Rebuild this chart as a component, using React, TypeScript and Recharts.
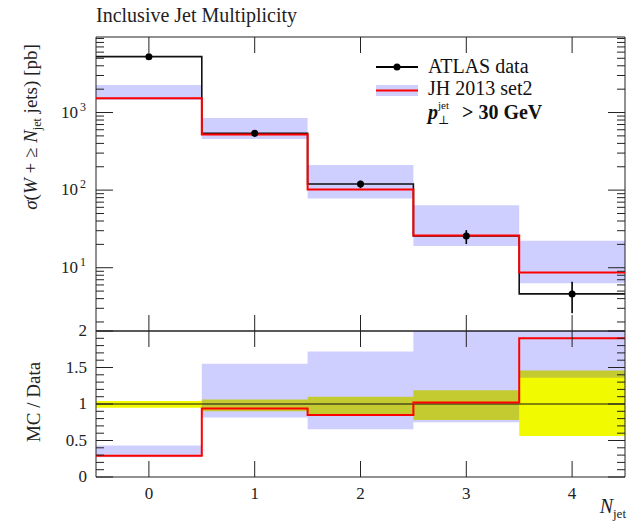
import React from "react";
import {
  ComposedChart,
  Line,
  Area,
  Scatter,
  ErrorBar,
  XAxis,
  YAxis,
  ReferenceArea,
} from "recharts";

// N_jet bins (centres) and their edges
const BIN_CENTERS = [0, 1, 2, 3, 4];
const BIN_EDGES = [-0.5, 0.5, 1.5, 2.5, 3.5, 4.5];

// top panel: sigma(W + >= N jets) [pb]
const ATLAS_XS = [5250, 540, 120, 25.7, 4.6];
const ATLAS_LO = [4990, 486, 106, 20.2, 2.6];
const ATLAS_HI = [5460, 572, 132, 30.5, 6.6];
const JH_XS = [1525, 520, 102, 26, 8.7];
const JH_LO = [1450, 455, 78, 19, 6.3];
const JH_HI = [2265, 849, 210, 64, 22.3];

// bottom panel: MC / Data
const RATIO_JH = [0.29, 0.94, 0.85, 1.02, 1.9];
const RATIO_JH_LO = [0.27, 0.815, 0.655, 0.75, 1.36];
const RATIO_JH_HI = [0.43, 1.55, 1.72, 2.5, 2.5];
const RATIO_DATA = [1, 1, 1, 1, 1];
const RATIO_DATA_LO = [0.95, 0.9, 0.86, 0.78, 0.56];
const RATIO_DATA_HI = [1.04, 1.06, 1.1, 1.19, 1.46];

// axis ticks
const LOG_MAJOR = [10, 100, 1000];
const LOG_TICKS = [
  2, 3, 4, 5, 6, 7, 8, 9, 10, 20, 30, 40, 50, 60, 70, 80, 90, 100, 200, 300,
  400, 500, 600, 700, 800, 900, 1000, 2000, 3000, 4000, 5000, 6000, 7000, 8000,
  9000,
];
const RATIO_MAJOR = [0, 0.5, 1, 1.5, 2];
const RATIO_TICKS = [
  0, 0.1, 0.2, 0.3, 0.4, 0.5, 0.6, 0.7, 0.8, 0.9, 1, 1.1, 1.2, 1.3, 1.4, 1.5,
  1.6, 1.7, 1.8, 1.9, 2,
];
const LOG_DOMAIN = [1.53, 9400];
const RATIO_DOMAIN = [0, 2];

// layout (page px)
const W = 635;
const LEFT = 96;
const RIGHT = 625;
const PW = RIGHT - LEFT;
const TOP = 37;
const SPLIT = 331;
const BOTTOM = 477;
const TOP_H = SPLIT - TOP;
const BOT_H = BOTTOM - SPLIT;

const FONT = '"Liberation Serif", "DejaVu Serif", serif';
const AXIS = "#222";
const BAND = "#0000ff";
const YELLOW = "#f2fa00";
const RED = "#ff0000";

// histogram rows: one per bin edge, last edge repeats the last bin
const stepRows = (vals: number[]) =>
  BIN_EDGES.map((x, i) => ({ x, v: vals[Math.min(i, vals.length - 1)] }));
const bandRows = (lo: number[], hi: number[]) =>
  BIN_EDGES.map((x, i) => {
    const j = Math.min(i, lo.length - 1);
    return { x, band: [lo[j], hi[j]] };
  });
const pointRows = BIN_CENTERS.map((x, i) => ({
  x,
  y: ATLAS_XS[i],
  err: [ATLAS_XS[i] - ATLAS_LO[i], ATLAS_HI[i] - ATLAS_XS[i]],
}));

const LogTick = (props: any) => {
  const { x, y, payload } = props;
  const v = payload.value as number;
  const major = LOG_MAJOR.includes(v);
  const len = major ? 17 : 8;
  return (
    <g>
      <line x1={x} x2={x + len} y1={y} y2={y} stroke={AXIS} />
      <line x1={x + PW} x2={x + PW - len} y1={y} y2={y} stroke={AXIS} />
      {major && (
        <text x={x - 10} y={y + 5} textAnchor="end" fontFamily={FONT} fontSize={17} fill="#222">
          10
          <tspan dx={2} dy={-7} fontSize={12}>
            {Math.round(Math.log10(v))}
          </tspan>
        </text>
      )}
    </g>
  );
};

const RatioTick = (props: any) => {
  const { x, y, payload } = props;
  const v = payload.value as number;
  const major = RATIO_MAJOR.includes(v);
  const len = major ? 17 : 8;
  return (
    <g>
      <line x1={x} x2={x + len} y1={y} y2={y} stroke={AXIS} />
      <line x1={x + PW} x2={x + PW - len} y1={y} y2={y} stroke={AXIS} />
      {major && (
        <text x={x - 9} y={y + 5} textAnchor="end" fontFamily={FONT} fontSize={17} fill="#222">
          {String(v)}
        </text>
      )}
    </g>
  );
};

const TopXTick = (props: any) => {
  const { x, y } = props;
  return (
    <g>
      <line x1={x} x2={x} y1={y} y2={y - 16} stroke={AXIS} />
      <line x1={x} x2={x} y1={y - TOP_H} y2={y - TOP_H + 16} stroke={AXIS} />
    </g>
  );
};

const BotXTick = (props: any) => {
  const { x, y, payload } = props;
  return (
    <g>
      <line x1={x} x2={x} y1={y} y2={y - 16} stroke={AXIS} />
      <line x1={x} x2={x} y1={y - BOT_H} y2={y - BOT_H + 16} stroke={AXIS} />
      <text x={x} y={y + 22} textAnchor="middle" fontFamily={FONT} fontSize={17} fill="#222">
        {payload.value}
      </text>
    </g>
  );
};

function TopPanel() {
  return (
    <ComposedChart
      width={W}
      height={SPLIT + 30}
      margin={{ top: TOP, right: W - RIGHT, bottom: 0, left: 0 }}
    >
      <XAxis
        dataKey="x"
        type="number"
        domain={[-0.5, 4.5]}
        ticks={BIN_CENTERS}
        interval={0}
        height={30}
        tickSize={0}
        tickMargin={0}
        axisLine={false}
        tickLine={false}
        tick={TopXTick}
        allowDataOverflow
      />
      <YAxis
        scale="log"
        type="number"
        domain={LOG_DOMAIN}
        ticks={LOG_TICKS}
        interval={0}
        width={LEFT}
        tickSize={0}
        tickMargin={0}
        axisLine={false}
        tickLine={false}
        tick={LogTick}
        allowDataOverflow
      />
      <Area
        data={bandRows(JH_LO, JH_HI)}
        dataKey="band"
        type="stepAfter"
        stroke="none"
        fill={BAND}
        fillOpacity={0.19}
        isAnimationActive={false}
      />
      <Line
        data={stepRows(ATLAS_XS)}
        dataKey="v"
        type="stepAfter"
        stroke="#111"
        strokeWidth={1.6}
        dot={false}
        isAnimationActive={false}
      />
      <Line
        data={stepRows(JH_XS)}
        dataKey="v"
        type="stepAfter"
        stroke={RED}
        strokeWidth={2}
        dot={false}
        isAnimationActive={false}
      />
      <Scatter
        data={pointRows}
        dataKey="y"
        fill="#000"
        isAnimationActive={false}
        shape={(p: any) => <circle cx={p.cx} cy={p.cy} r={3.5} fill="#000" />}
      >
        <ErrorBar dataKey="err" direction="y" width={0} stroke="#000" strokeWidth={1.6} />
      </Scatter>
      <ReferenceArea
        x1={-0.5}
        x2={4.5}
        y1={LOG_DOMAIN[0]}
        y2={LOG_DOMAIN[1]}
        fill="none"
        stroke={AXIS}
        strokeWidth={1}
      />
    </ComposedChart>
  );
}

function RatioPanel() {
  return (
    <ComposedChart
      width={W}
      height={525}
      margin={{ top: SPLIT, right: W - RIGHT, bottom: 0, left: 0 }}
    >
      <XAxis
        dataKey="x"
        type="number"
        domain={[-0.5, 4.5]}
        ticks={BIN_CENTERS}
        interval={0}
        height={525 - BOTTOM}
        tickSize={0}
        tickMargin={0}
        axisLine={false}
        tickLine={false}
        tick={BotXTick}
        allowDataOverflow
      />
      <YAxis
        type="number"
        domain={RATIO_DOMAIN}
        ticks={RATIO_TICKS}
        interval={0}
        width={LEFT}
        tickSize={0}
        tickMargin={0}
        axisLine={false}
        tickLine={false}
        tick={RatioTick}
        allowDataOverflow
      />
      <Area
        data={bandRows(RATIO_DATA_LO, RATIO_DATA_HI)}
        dataKey="band"
        type="stepAfter"
        stroke="none"
        fill={YELLOW}
        fillOpacity={1}
        isAnimationActive={false}
      />
      <Area
        data={bandRows(RATIO_JH_LO, RATIO_JH_HI)}
        dataKey="band"
        type="stepAfter"
        stroke="none"
        fill={BAND}
        fillOpacity={0.19}
        isAnimationActive={false}
      />
      <Line
        data={stepRows(RATIO_DATA)}
        dataKey="v"
        type="stepAfter"
        stroke="#111"
        strokeWidth={1.2}
        dot={false}
        isAnimationActive={false}
      />
      <Line
        data={stepRows(RATIO_JH)}
        dataKey="v"
        type="stepAfter"
        stroke={RED}
        strokeWidth={2}
        dot={false}
        isAnimationActive={false}
      />
      <ReferenceArea
        x1={-0.5}
        x2={4.5}
        y1={RATIO_DOMAIN[0]}
        y2={RATIO_DOMAIN[1]}
        fill="none"
        stroke={AXIS}
        strokeWidth={1}
      />
    </ComposedChart>
  );
}

function Annotations() {
  return (
    <svg
      width={W}
      height={525}
      style={{ position: "absolute", left: 0, top: 0, pointerEvents: "none" }}
      fontFamily={FONT}
    >
      <text x={LEFT} y={22} fontSize={20} fill="#222">
        Inclusive Jet Multiplicity
      </text>

      {/* legend */}
      <line x1={376} x2={418} y1={67} y2={67} stroke="#000" strokeWidth={2} />
      <circle cx={397} cy={67} r={3.5} fill="#000" />
      <text x={428} y={73} fontSize={20} fill="#111">
        ATLAS data
      </text>
      <rect x={376} y={85} width={42} height={11} fill={BAND} fillOpacity={0.19} />
      <line x1={376} x2={418} y1={90.5} y2={90.5} stroke={RED} strokeWidth={2} />
      <text x={428} y={95} fontSize={20} fill="#111">
        JH 2013 set2
      </text>
      <text x={428} y={119} fontSize={20} fill="#111" fontWeight="bold">
        <tspan fontStyle="italic">p</tspan>
        <tspan dy={-10} fontSize={11} fontWeight="normal">jet</tspan>
        <tspan x={438} dy={15} fontSize={12} fontWeight="normal">⊥</tspan>
        <tspan x={462} dy={-5}>&gt; 30 GeV</tspan>
      </text>

      {/* y titles */}
      <text
        transform="translate(37,127) rotate(-90)"
        textAnchor="middle"
        fontSize={19}
        fill="#222"
      >
        <tspan fontStyle="italic">σ</tspan>(<tspan fontStyle="italic">W</tspan> + ≥{" "}
        <tspan fontStyle="italic">N</tspan>
        <tspan dy={4} fontSize={12}>jet</tspan>
        <tspan dy={-4}> jets) [pb]</tspan>
      </text>
      <text
        transform="translate(40,402) rotate(-90)"
        textAnchor="middle"
        fontSize={19}
        fill="#222"
      >
        MC / Data
      </text>

      {/* x title */}
      <text x={626} y={513} textAnchor="end" fontSize={20} fill="#222">
        <tspan fontStyle="italic">N</tspan>
        <tspan dy={5} fontSize={13}>jet</tspan>
      </text>
    </svg>
  );
}

export default function App() {
  return (
    <div style={{ position: "absolute", left: 0, top: 0, width: W, height: 525, background: "#fff" }}>
      <div style={{ position: "absolute", left: 0, top: 0 }}>
        <TopPanel />
      </div>
      <div style={{ position: "absolute", left: 0, top: 0 }}>
        <RatioPanel />
      </div>
      <Annotations />
    </div>
  );
}
